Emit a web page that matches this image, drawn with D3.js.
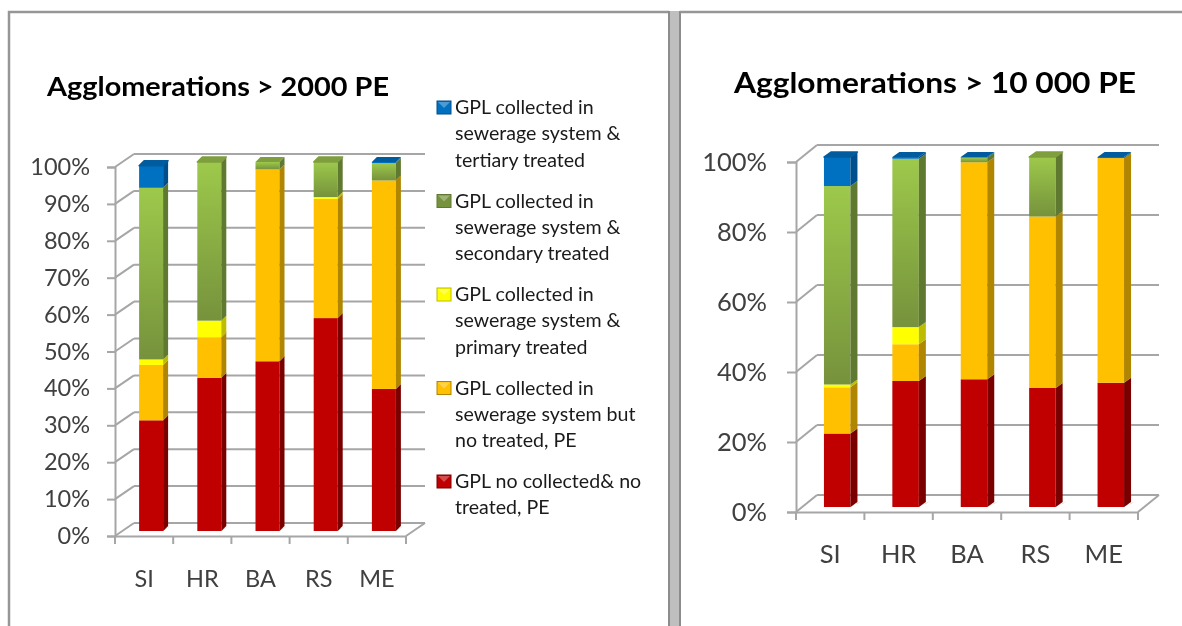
<!DOCTYPE html>
<html>
<head>
<meta charset="utf-8">
<script src="https://cdn.jsdelivr.net/npm/d3@7"></script>
<style>
  html, body { margin: 0; padding: 0; background: #fff; overflow: hidden; }
  svg { display: block; filter: blur(0.4px); }
  text { font-family: Lato, "Open Sans", sans-serif; }
</style>
</head>
<body>
<script>
// categories and series, bottom of the stack first
const countries = ["SI", "HR", "BA", "RS", "ME"];
const seriesKeys = ["none", "untreated", "primary", "secondary", "tertiary"];

const noCollected2000 = [30, 41.5, 46, 57.7, 38.5];
const untreated2000 = [15, 11, 52, 32.3, 56.5];
const primary2000 = [1.5, 4.5, 0, 0.5, 0];
const secondary2000 = [46.5, 43, 2, 9.5, 4.7];
const tertiary2000 = [6, 0, 0, 0, 0.3];

const noCollected10000 = [21, 36, 36.5, 34, 35.5];
const untreated10000 = [13.2, 10.5, 62, 49, 64.2];
const primary10000 = [0.8, 4.9, 0, 0, 0];
const secondary10000 = [56.7, 48.1, 1.3, 17, 0];
const tertiary10000 = [8.3, 0.5, 0.2, 0, 0.3];

const legendLabels = [
    ["GPL collected in", "sewerage system &", "tertiary treated"],
    ["GPL collected in", "sewerage system &", "secondary treated"],
    ["GPL collected in", "sewerage system &", "primary treated"],
    ["GPL collected in", "sewerage system but", "no treated, PE"],
    ["GPL no collected& no", "treated, PE"]
];
const legendKeys = ["tertiary", "secondary", "primary", "untreated", "none"];

// front = light / dark for the gradient, side and top are the shaded faces
const colors = {
    none: { light: "#c00000", dark: "#c00000", side: "#7a0000", top: "#9a0000" },
    untreated: { light: "#ffc000", dark: "#ffc000", side: "#b08500", top: "#d9a300" },
    primary: { light: "#ffff00", dark: "#ffff00", side: "#bcbc00", top: "#dddd00" },
    secondary: { light: "#9dc94b", dark: "#76923c", side: "#5f7a30", top: "#7f9f3f" },
    tertiary: { light: "#0070c0", dark: "#0070c0", side: "#004f8c", top: "#005c9f" }
};

const axisGray = "#a6a6a6";
const width = 1182;
const height = 626;

const svg = d3.select("body").append("svg")
    .attr("width", width)
    .attr("height", height);

const defs = svg.append("defs");
seriesKeys.forEach(k => {
    const grad = defs.append("linearGradient")
        .attr("id", "front-" + k)
        .attr("x1", 0).attr("y1", 0).attr("x2", 0).attr("y2", 1);
    grad.append("stop").attr("offset", "0%").attr("stop-color", colors[k].light);
    grad.append("stop").attr("offset", "100%").attr("stop-color", colors[k].dark);
});

// panel frames and the divider between the two charts
svg.append("path")
    .attr("d", "M9,626V12H669")
    .attr("fill", "none")
    .attr("stroke", "#969696")
    .attr("stroke-width", 2.5);
svg.append("rect")
    .attr("x", 669).attr("y", 11).attr("width", 11).attr("height", 615)
    .attr("fill", "#bfbfbf");
svg.selectAll("line.divider")
    .data([669, 680])
    .join("line")
    .attr("class", "divider")
    .attr("x1", d => d).attr("x2", d => d)
    .attr("y1", 11).attr("y2", 626)
    .attr("stroke", "#8c8c8c")
    .attr("stroke-width", 2);
svg.append("line")
    .attr("x1", 680).attr("x2", width)
    .attr("y1", 12).attr("y2", 12)
    .attr("stroke", "#969696")
    .attr("stroke-width", 2.5);

function drawChart(c) {
    const g = svg.append("g");

    const x = d3.scaleBand().domain(countries).range([c.left, c.right]);
    const y = d3.scaleLinear().domain([0, 100]).range([c.bottom, c.top]);
    const barW = c.barW;
    const barX = d => x(d) + (x.bandwidth() - barW) / 2 + c.barDx;

    // back wall grid lines and the diagonals running to the front axis
    c.ticks.forEach(t => {
        g.append("line")
            .attr("x1", c.left + c.wallDx).attr("x2", c.right + c.wallDx)
            .attr("y1", y(t) - c.wallDy).attr("y2", y(t) - c.wallDy)
            .attr("stroke", axisGray).attr("stroke-width", 2);
        g.append("line")
            .attr("x1", c.left).attr("x2", c.left + c.wallDx)
            .attr("y1", y(t)).attr("y2", y(t) - c.wallDy)
            .attr("stroke", axisGray).attr("stroke-width", 2);
    });
    // right side of the floor
    g.append("line")
        .attr("x1", c.right).attr("x2", c.right + c.wallDx)
        .attr("y1", y(0)).attr("y2", y(0) - c.wallDy)
        .attr("stroke", axisGray).attr("stroke-width", 2);

    const yAxis = d3.axisLeft(y)
        .tickValues(c.ticks)
        .tickSize(c.tickLen)
        .tickPadding(c.tickPad)
        .tickFormat(d => d + "%");
    const yG = g.append("g").attr("transform", `translate(${c.left},0)`).call(yAxis);
    yG.selectAll("text")
        .attr("font-size", c.tickFont)
        .attr("fill", "#404040")
        .style("font-family", "Lato, sans-serif");

    const xAxis = d3.axisBottom(x).tickSize(0).tickPadding(c.catPad);
    const xG = g.append("g").attr("transform", `translate(0,${y(0)})`).call(xAxis);
    xG.selectAll("text")
        .attr("font-size", c.tickFont)
        .attr("fill", "#404040")
        .style("font-family", "Lato, sans-serif");

    // tick marks between the categories
    g.selectAll("line.cat-tick")
        .data(countries.concat("end"))
        .join("line")
        .attr("class", "cat-tick")
        .attr("x1", d => d === "end" ? c.right : x(d))
        .attr("x2", d => d === "end" ? c.right : x(d))
        .attr("y1", y(0)).attr("y2", y(0) + 8)
        .attr("stroke", axisGray).attr("stroke-width", 2);

    g.selectAll(".domain, .tick line")
        .attr("stroke", axisGray)
        .attr("stroke-width", 2);

    // bars, stacked bottom to top with the library's stack layout
    const rows = countries.map((name, i) => {
        const row = { name };
        seriesKeys.forEach(k => { row[k] = c.values[k][i]; });
        return row;
    });
    const stacked = d3.stack().keys(seriesKeys)(rows);

    const barY = v => y(v) - c.barLift;
    countries.forEach((name, i) => {
        const bar = g.append("g");
        const x0 = barX(name);
        const x1 = x0 + barW;

        // soft shadow on the floor
        bar.append("path")
            .attr("d", `M${x0},${barY(0)}L${x1},${barY(0)}L${x1 + c.sideDx + 4},${barY(0) - c.sideDy - 1}L${x1 + c.sideDx},${barY(0) - 3}Z`)
            .attr("fill", "#d4d4d4");

        let topKey = null;
        let topV = 0;
        let topSize = 0;
        stacked.forEach(s => {
            const v0 = s[i][0];
            const v1 = s[i][1];
            if (v1 - v0 <= 0) return;
            topKey = s.key;
            topV = v1;
            topSize = v1 - v0;
            bar.append("rect")
                .attr("x", x0).attr("y", barY(v1))
                .attr("width", barW).attr("height", barY(v0) - barY(v1))
                .attr("fill", `url(#front-${s.key})`);
            bar.append("path")
                .attr("d", `M${x1},${barY(v1)}L${x1 + c.sideDx},${barY(v1) - c.sideDy}L${x1 + c.sideDx},${barY(v0) - c.sideDy}L${x1},${barY(v0)}Z`)
                .attr("fill", colors[s.key].side);
        });
        // only the highest segment shows its cap, tall ones get the soft bevel
        bar.append("path")
            .attr("d", `M${x0},${barY(topV)}L${x0 + c.sideDx},${barY(topV) - c.sideDy}L${x1 + c.sideDx},${barY(topV) - c.sideDy}L${x1},${barY(topV)}Z`)
            .attr("fill", colors[topKey].top)
            .attr("stroke", topSize > 3 ? colors[topKey].top : "none")
            .attr("stroke-width", 1.5)
            .attr("stroke-linejoin", "round");
    });

    // title is a bit wider than its height in the original, hence textLength
    g.append("text")
        .attr("x", c.titleX)
        .attr("y", c.titleY)
        .attr("font-size", c.titleFont)
        .attr("font-weight", 700)
        .attr("fill", "#000")
        .attr("textLength", c.titleLen)
        .attr("lengthAdjust", "spacingAndGlyphs")
        .text(c.title);
}

drawChart({
    title: "Agglomerations > 2000 PE", titleX: 47, titleY: 96, titleFont: 27, titleLen: 342,
    left: 115, right: 406, bottom: 536, top: 167,
    wallDx: 19, wallDy: 13, barW: 24, barDx: 7, barLift: 5, sideDx: 5, sideDy: 5,
    ticks: d3.range(0, 101, 10), tickFont: 23.5, tickLen: 8, tickPad: 17, catPad: 34,
    values: {
        none: noCollected2000, untreated: untreated2000, primary: primary2000,
        secondary: secondary2000, tertiary: tertiary2000
    }
});

drawChart({
    title: "Agglomerations > 10 000 PE", titleX: 734, titleY: 93, titleFont: 28, titleLen: 402,
    left: 796, right: 1138, bottom: 512, top: 162,
    wallDx: 21, wallDy: 17, barW: 26.5, barDx: 7, barLift: 5, sideDx: 7, sideDy: 5,
    ticks: d3.range(0, 101, 20), tickFont: 25.5, tickLen: 9, tickPad: 20, catPad: 33,
    values: {
        none: noCollected10000, untreated: untreated10000, primary: primary10000,
        secondary: secondary10000, tertiary: tertiary10000
    }
});

// legend, shared look with the left chart
const legendY = d3.scalePoint().domain(legendKeys).range([108, 482]);
const legend = svg.selectAll("g.legend")
    .data(legendKeys)
    .join("g")
    .attr("class", "legend")
    .attr("transform", d => `translate(437,${legendY(d)})`);
legend.append("rect")
    .attr("x", 0).attr("y", -7).attr("width", 14).attr("height", 13)
    .attr("fill", d => colors[d].dark)
    .attr("stroke", d => colors[d].side)
    .attr("stroke-width", 1);
legend.append("path")
    .attr("d", "M1,-6L13,-6L7,0Z")
    .attr("fill", "#fff")
    .attr("opacity", 0.3);
legend.each(function(d, i) {
    d3.select(this).selectAll("text")
        .data(legendLabels[i])
        .join("text")
        .attr("x", 18)
        .attr("y", (t, j) => 6 + j * 26.3)
        .attr("font-size", 19.6)
        .attr("fill", "#1a1a1a")
        .text(t => t);
});
</script>
</body>
</html>
